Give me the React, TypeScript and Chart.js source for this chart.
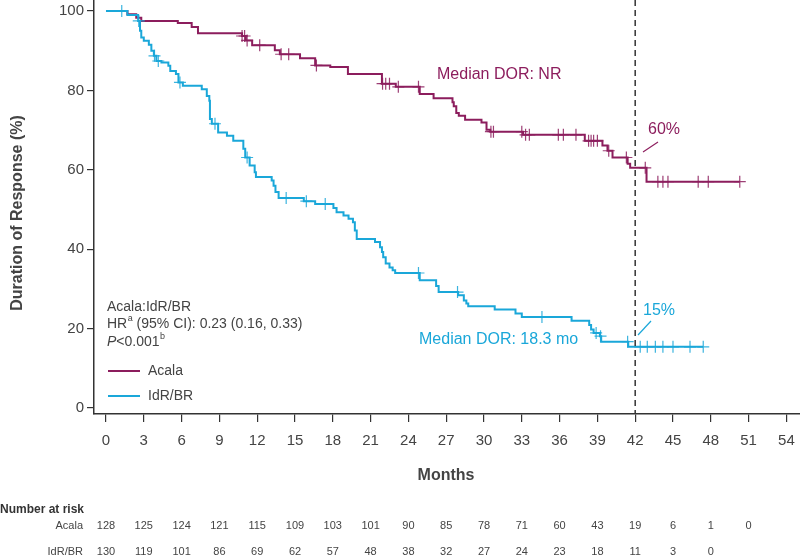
import React, { useEffect, useRef } from "react";
import { Chart, registerables } from "chart.js";

Chart.register(...registerables);

const FONT = '"Liberation Sans", Arial, Helvetica, sans-serif';
const MAG = "#8C1D5D";
const BLUE = "#1AA7D9";
const TEXT = "#444444";
const AXIS = "#333333";

// X ticks (months) and Y ticks (%)
const xTicks = [0, 3, 6, 9, 12, 15, 18, 21, 24, 27, 30, 33, 36, 39, 42, 45, 48, 51, 54];
const yTicks = [0, 20, 40, 60, 80, 100];

// Acala Kaplan-Meier steps
const acalaTimes = [0, 1.7, 2.4, 2.8, 5.7, 6.8, 7.3, 10.8, 11.1, 11.6, 13.4, 13.8, 15.4, 16.6, 17.8, 19.2, 21.9, 23.0, 24.9, 26.0, 27.5, 27.6, 27.8, 28.0, 28.5, 29.8, 30.2, 30.5, 33.1, 38.0, 39.4, 39.8, 40.2, 41.4, 41.6, 42.9, 50.3];
const acalaSurv = [100, 99.2, 98.3, 97.5, 97.0, 96.0, 94.4, 93.7, 92.6, 91.4, 90.1, 89.1, 88.1, 86.3, 85.9, 84.1, 81.7, 80.9, 79.1, 78.0, 77.0, 76.0, 74.3, 73.6, 72.6, 71.9, 70.1, 69.6, 68.8, 67.3, 66.1, 64.8, 63.1, 61.5, 60.5, 57.0, 57.0];
const acalaCensor = [10.8, 11.0, 11.2, 12.2, 13.9, 14.5, 16.7, 21.95, 22.2, 22.5, 23.2, 24.8, 30.55, 30.75, 33.0, 33.3, 33.6, 35.9, 36.3, 37.3, 38.3, 38.5, 38.7, 39.0, 39.9, 41.3, 42.8, 43.8, 44.2, 44.6, 47.0, 47.8, 50.3];

// IdR/BR Kaplan-Meier steps
const idrTimes = [0, 1.7, 2.55, 2.7, 2.8, 3.0, 3.4, 3.6, 3.8, 4.0, 4.4, 4.95, 5.1, 5.55, 5.75, 6.1, 7.6, 8.0, 8.2, 8.25, 8.4, 8.9, 9.6, 10.1, 10.9, 11.05, 11.4, 11.8, 11.9, 13.15, 13.3, 13.45, 13.7, 15.7, 16.6, 18.05, 18.3, 18.85, 19.25, 19.6, 19.75, 19.9, 21.35, 21.75, 21.9, 22.0, 22.2, 22.5, 22.75, 22.95, 24.9, 26.2, 26.4, 27.95, 28.4, 28.6, 28.75, 30.85, 32.5, 33.0, 36.95, 38.35, 38.5, 38.7, 39.2, 39.3, 41.45, 47.4];
const idrSurv = [100, 99.0, 97.5, 95.0, 93.3, 92.5, 91.5, 90.0, 88.7, 87.4, 87.0, 86.2, 84.9, 84.1, 82.0, 81.2, 80.3, 78.6, 77.4, 72.8, 71.6, 69.4, 68.6, 67.3, 65.3, 63.1, 61.1, 59.4, 58.2, 57.3, 56.0, 54.4, 52.9, 52.1, 51.4, 50.4, 49.3, 48.5, 47.7, 46.8, 44.7, 42.6, 41.8, 40.5, 39.3, 38.0, 36.4, 35.4, 34.7, 34.0, 32.2, 30.7, 29.2, 28.4, 27.1, 26.3, 25.6, 24.8, 23.8, 22.9, 22.0, 20.9, 19.8, 18.9, 18.1, 16.7, 15.4, 15.4];
const idrCensor = [1.25, 2.6, 3.85, 4.15, 5.87, 8.65, 11.2, 14.3, 15.9, 17.4, 24.8, 27.9, 34.6, 38.9, 39.25, 41.4, 42.4, 42.96, 43.6, 44.2, 45.0, 46.35, 47.4];

// Number at risk
const riskMonths = [0, 3, 6, 9, 12, 15, 18, 21, 24, 27, 30, 33, 36, 39, 42, 45, 48, 51];
const acalaRisk = [128, 125, 124, 121, 115, 109, 103, 101, 90, 85, 78, 71, 60, 43, 19, 6, 1, 0];
const idrRisk = [130, 119, 101, 86, 69, 62, 57, 48, 38, 32, 27, 24, 23, 18, 11, 3, 0];

const landmarkMonth = 42;

function survAt(times: number[], surv: number[], t: number) {
  let s = surv[0];
  for (let i = 0; i < times.length; i++) if (times[i] <= t) s = surv[i];
  return s;
}

const overlay = {
  id: "overlay",
  afterDatasetsDraw(chart: any) {
    const ctx = chart.ctx;
    const xs = chart.scales.x;
    const area = chart.chartArea;
    const lx = xs.getPixelForValue(landmarkMonth);
    ctx.save();
    ctx.strokeStyle = AXIS;
    ctx.lineWidth = 1.5;
    ctx.setLineDash([6, 4]);
    ctx.beginPath();
    ctx.moveTo(lx, area.top);
    ctx.lineTo(lx, area.bottom);
    ctx.stroke();
    ctx.restore();
  },
  afterDraw(chart: any) {
    const ctx = chart.ctx;
    const xs = chart.scales.x;
    ctx.save();
    ctx.textBaseline = "middle";

    // Axis titles
    ctx.fillStyle = TEXT;
    ctx.font = `bold 16px ${FONT}`;
    ctx.textAlign = "center";
    ctx.fillText("Months", 446, 476);
    ctx.save();
    ctx.translate(18, 213);
    ctx.rotate(-Math.PI / 2);
    ctx.fillText("Duration of Response (%)", 0, 0);
    ctx.restore();

    // Median / percentage annotations
    ctx.textAlign = "left";
    ctx.font = `16px ${FONT}`;
    ctx.fillStyle = MAG;
    ctx.fillText("Median DOR: NR", 437, 75);
    ctx.fillText("60%", 648, 130);
    ctx.strokeStyle = MAG;
    ctx.lineWidth = 1.2;
    ctx.beginPath();
    ctx.moveTo(643, 152);
    ctx.lineTo(658, 142);
    ctx.stroke();

    ctx.fillStyle = BLUE;
    ctx.fillText("Median DOR: 18.3 mo", 419, 340);
    ctx.fillText("15%", 643, 311);
    ctx.strokeStyle = BLUE;
    ctx.beginPath();
    ctx.moveTo(638, 335);
    ctx.lineTo(651, 321);
    ctx.stroke();

    // HR block
    ctx.fillStyle = TEXT;
    ctx.font = `14px ${FONT}`;
    let x = 107;
    ctx.fillText("Acala:IdR/BR", x, 307);
    ctx.fillText("HR", x, 324);
    x += ctx.measureText("HR").width + 0.5;
    ctx.font = `9px ${FONT}`;
    ctx.fillText("a", x, 319);
    x += ctx.measureText("a").width;
    ctx.font = `14px ${FONT}`;
    ctx.fillText(" (95% CI): 0.23 (0.16, 0.33)", x, 324);
    x = 107;
    ctx.font = `italic 14px ${FONT}`;
    ctx.fillText("P", x, 342);
    x += ctx.measureText("P").width;
    ctx.font = `14px ${FONT}`;
    ctx.fillText("<0.001", x, 342);
    x += ctx.measureText("<0.001").width + 0.5;
    ctx.font = `9px ${FONT}`;
    ctx.fillText("b", x, 337);

    // Legend
    ctx.lineWidth = 2;
    ctx.strokeStyle = MAG;
    ctx.beginPath();
    ctx.moveTo(108, 371);
    ctx.lineTo(140, 371);
    ctx.stroke();
    ctx.strokeStyle = BLUE;
    ctx.beginPath();
    ctx.moveTo(108, 396);
    ctx.lineTo(140, 396);
    ctx.stroke();
    ctx.font = `14px ${FONT}`;
    ctx.fillStyle = TEXT;
    ctx.fillText("Acala", 148, 371);
    ctx.fillText("IdR/BR", 148, 396);

    // Number at risk table
    ctx.fillStyle = "#333";
    ctx.font = `bold 12px ${FONT}`;
    ctx.textAlign = "left";
    ctx.fillText("Number at risk", 0, 510);
    ctx.font = `11px ${FONT}`;
    ctx.fillStyle = TEXT;
    ctx.textAlign = "right";
    ctx.fillText("Acala", 83, 526);
    ctx.fillText("IdR/BR", 83, 552);
    ctx.textAlign = "center";
    acalaRisk.forEach((n, i) => {
      ctx.fillText(String(n), xs.getPixelForValue(riskMonths[i]), 526);
    });
    idrRisk.forEach((n, i) => {
      ctx.fillText(String(n), xs.getPixelForValue(riskMonths[i]), 552);
    });
    ctx.restore();
  },
};

export default function App() {
  const ref = useRef<HTMLCanvasElement | null>(null);

  useEffect(() => {
    if (!ref.current) return;
    const chart = new Chart(ref.current, {
      type: "line",
      data: {
        datasets: [
          {
            label: "Acala",
            data: acalaTimes.map((t, i) => ({ x: t, y: acalaSurv[i] })),
            borderColor: MAG,
            borderWidth: 2,
            stepped: "before",
            pointRadius: 0,
            fill: false,
            order: 2,
          },
          {
            label: "IdR/BR",
            data: idrTimes.map((t, i) => ({ x: t, y: idrSurv[i] })),
            borderColor: BLUE,
            borderWidth: 2,
            stepped: "before",
            pointRadius: 0,
            fill: false,
            order: 1,
          },
          {
            label: "Acala censored",
            data: acalaCensor.map((t) => ({ x: t, y: survAt(acalaTimes, acalaSurv, t) })),
            showLine: false,
            pointStyle: "cross",
            pointRadius: 6,
            pointBorderWidth: 1.2,
            pointBorderColor: "rgba(140,29,93,0.85)",
            borderColor: "rgba(140,29,93,0.85)",
            order: 2,
          },
          {
            label: "IdR/BR censored",
            data: idrCensor.map((t) => ({ x: t, y: survAt(idrTimes, idrSurv, t) })),
            showLine: false,
            pointStyle: "cross",
            pointRadius: 6,
            pointBorderWidth: 1.2,
            pointBorderColor: "rgba(26,167,217,0.85)",
            borderColor: "rgba(26,167,217,0.85)",
            order: 1,
          },
        ],
      },
      options: {
        animation: false,
        responsive: false,
        events: [],
        layout: { padding: 0, autoPadding: false },
        plugins: { legend: { display: false }, tooltip: { enabled: false } },
        scales: {
          x: {
            type: "linear",
            min: -0.952,
            max: 55.08,
            afterBuildTicks: (s: any) => {
              s.ticks = xTicks.map((v) => ({ value: v }));
            },
            afterFit: (s: any) => {
              s.height = 142;
              s.paddingLeft = 0;
              s.paddingRight = 0;
            },
            grid: { drawOnChartArea: false, drawTicks: true, tickLength: 8, color: AXIS, lineWidth: 1.2 },
            border: { display: true, color: AXIS, width: 1.5 },
            ticks: { font: { family: FONT, size: 15 }, color: TEXT, padding: 10, maxRotation: 0, autoSkip: false },
          },
          y: {
            type: "linear",
            min: -1.51,
            max: 102.77,
            afterBuildTicks: (s: any) => {
              s.ticks = yTicks.map((v) => ({ value: v }));
            },
            afterFit: (s: any) => {
              s.width = 94;
              s.paddingTop = 0;
              s.paddingBottom = 0;
            },
            grid: { drawOnChartArea: false, drawTicks: true, tickLength: 7, color: AXIS, lineWidth: 1.2 },
            border: { display: true, color: AXIS, width: 1.5 },
            ticks: { font: { family: FONT, size: 15 }, color: TEXT, padding: 3, autoSkip: false },
          },
        },
      },
      plugins: [overlay],
    } as any);
    return () => chart.destroy();
  }, []);

  return (
    <div style={{ position: "absolute", left: 0, top: 0, width: 800, height: 556, background: "#fff" }}>
      <canvas ref={ref} width={800} height={556} style={{ display: "block" }} />
    </div>
  );
}
